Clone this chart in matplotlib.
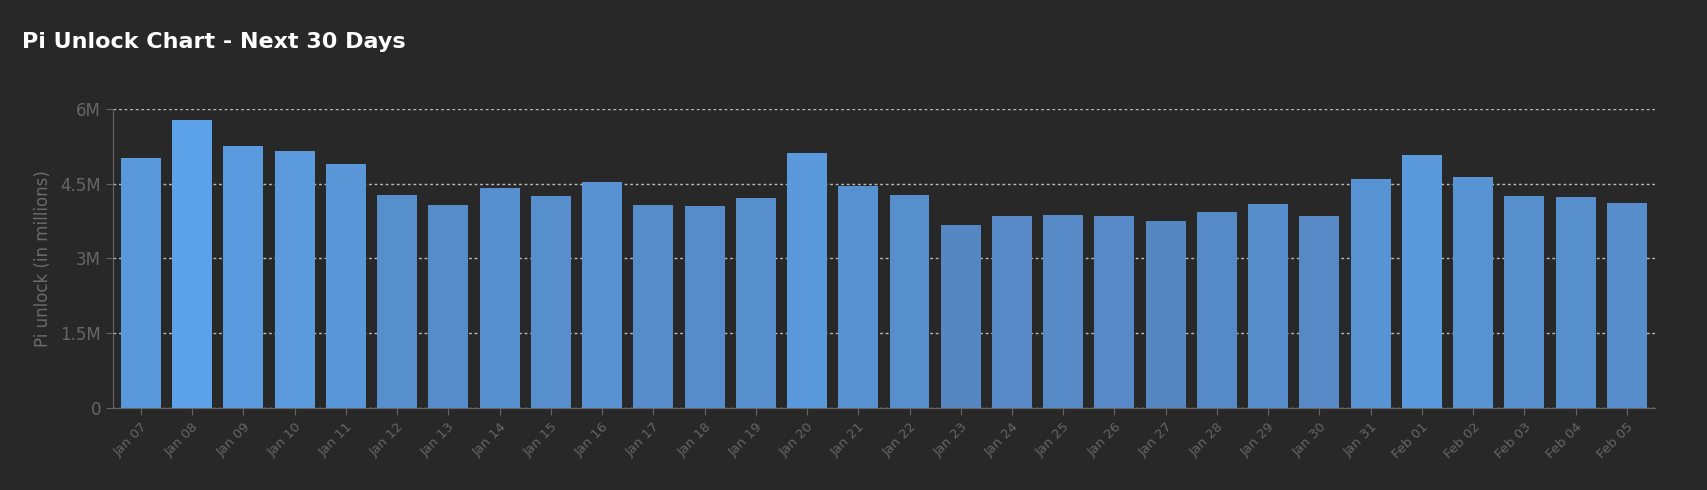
import numpy as np
import matplotlib
matplotlib.use("Agg")
import matplotlib.pyplot as plt
from matplotlib.colors import to_rgb

dates = ["Jan 07", "Jan 08", "Jan 09", "Jan 10", "Jan 11", "Jan 12", "Jan 13", "Jan 14",
         "Jan 15", "Jan 16", "Jan 17", "Jan 18", "Jan 19", "Jan 20", "Jan 21", "Jan 22",
         "Jan 23", "Jan 24", "Jan 25", "Jan 26", "Jan 27", "Jan 28", "Jan 29", "Jan 30",
         "Jan 31", "Feb 01", "Feb 02", "Feb 03", "Feb 04", "Feb 05"]
unlock = [5.02, 5.78, 5.26, 5.15, 4.89, 4.28, 4.08, 4.41, 4.25, 4.54, 4.08, 4.06, 4.21, 5.11,
          4.45, 4.28, 3.67, 3.86, 3.88, 3.86, 3.75, 3.93, 4.10, 3.86, 4.60, 5.08, 4.63, 4.25,
          4.23, 4.12]
yticks = [0, 1.5, 3, 4.5, 6]
ylabels = ["0", "1.5M", "3M", "4.5M", "6M"]

BG = "#282828"
lo, hi = np.array(to_rgb("#5587c2")), np.array(to_rgb("#5ca2e8"))
vals = np.array(unlock)
t = (vals - vals.min()) / (vals.max() - vals.min())
colors = [tuple(lo + (hi - lo) * k) for k in t]

fig = plt.figure(figsize=(17.08, 4.9), dpi=100, facecolor=BG)
ax = fig.add_axes([0.066, 0.167, 0.903, 0.611], facecolor=BG)
x = np.arange(len(dates))
ax.bar(x, unlock, width=0.78, color=colors, zorder=3)
ax.set_xlim(-0.55, len(dates) - 0.45)
ax.set_ylim(0, 6)
ax.set_yticks(yticks)
ax.set_yticklabels(ylabels, color="#8a8a8a", fontsize=12)
ax.set_xticks(x)
ax.set_xticklabels(dates, rotation=45, ha="right", rotation_mode="anchor",
                   color="#7a7a7a", fontsize=9.5)
ax.yaxis.grid(True, color="#bbbbbb", linestyle=(0, (2, 2)), linewidth=1, zorder=0)
for s in ["top", "right"]:
    ax.spines[s].set_visible(False)
for s in ["left", "bottom"]:
    ax.spines[s].set_color("#666666")
ax.tick_params(colors="#666666", length=5)
ax.set_ylabel("Pi unlock (in millions)", color="#6a6a6a", fontsize=12, labelpad=6)
fig.text(0.013, 0.915, "Pi Unlock Chart - Next 30 Days", color="white",
         fontsize=16, fontweight="bold", va="center")
fig.savefig("out.png", dpi=100, facecolor=BG)
